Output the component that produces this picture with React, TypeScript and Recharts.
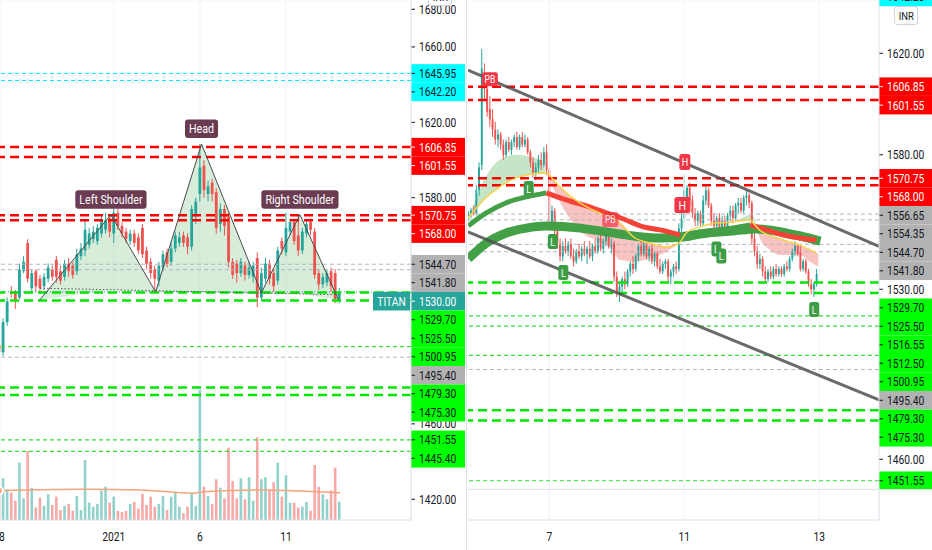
import React from "react";
import {
  ComposedChart,
  Bar,
  Line,
  Area,
  XAxis,
  YAxis,
  CartesianGrid,
  ReferenceLine,
  ReferenceDot,
} from "recharts";

const UP = "#26a69a";
const DOWN = "#ef5350";
const INK = "#131722";
const GRID = "#f0f3fa";
const BORDER = "#e0e3eb";
const FONT = "Roboto, 'Liberation Sans', Arial, sans-serif";
const SQUEEZE = 0.82;
const SYMBOL = "TITAN";

// ---------- left pane: hourly candles, Dec 28 .. Jan 12 ----------
// [open, high, low, close]
const leftOHLC: number[][] = [
  [1502, 1504, 1497, 1498], [1498, 1516, 1496, 1514], [1514, 1527, 1512, 1525], [1530, 1533, 1527, 1529],
  [1530, 1531, 1521, 1526], [1527, 1545, 1526, 1542], [1541, 1549, 1540, 1546], [1556, 1558, 1535, 1537],
  [1532, 1542, 1530, 1540], [1541, 1542, 1530, 1533], [1537, 1539, 1529, 1532], [1533, 1540, 1531, 1538],
  [1537, 1545, 1535, 1543], [1542, 1544, 1536, 1538], [1547, 1549, 1535, 1538], [1541, 1544, 1534, 1536],
  [1538, 1547, 1536, 1545], [1545, 1548, 1538, 1541], [1544, 1546, 1537, 1539], [1541, 1553, 1539, 1550],
  [1549, 1556, 1547, 1553], [1552, 1568, 1549, 1563], [1555, 1564, 1553, 1561], [1558, 1565, 1556, 1562],
  [1557, 1566, 1555, 1564], [1561, 1571, 1559, 1568], [1563, 1572, 1561, 1568], [1569, 1571, 1559, 1562],
  [1561, 1574, 1556, 1572], [1572, 1574, 1563, 1565], [1565, 1567, 1559, 1561], [1562, 1564, 1556, 1558],
  [1557, 1563, 1555, 1561], [1561, 1563, 1554, 1556], [1559, 1561, 1550, 1552], [1564, 1566, 1548, 1550],
  [1552, 1554, 1542, 1545], [1546, 1548, 1537, 1540], [1542, 1544, 1530, 1537], [1536, 1546, 1533, 1544],
  [1543, 1552, 1541, 1550], [1551, 1553, 1543, 1545], [1546, 1556, 1544, 1553], [1553, 1562, 1551, 1560],
  [1556, 1562, 1554, 1559], [1560, 1562, 1554, 1556], [1559, 1561, 1550, 1554], [1554, 1576, 1552, 1574],
  [1570, 1580, 1566, 1578], [1582, 1608.5, 1578, 1596], [1597, 1600, 1580, 1584], [1582, 1589, 1578, 1586],
  [1588, 1590, 1578, 1582], [1583, 1585, 1561, 1564], [1566, 1577, 1562, 1574], [1574, 1576, 1560, 1565],
  [1570, 1572, 1543, 1546], [1546, 1548, 1537, 1539], [1545, 1547, 1535, 1540], [1540, 1548, 1538, 1546],
  [1544, 1546, 1536, 1539], [1539, 1546, 1537, 1543], [1538, 1546, 1535, 1544], [1548, 1551, 1522, 1527],
  [1527, 1543, 1525, 1540], [1537, 1548, 1535, 1545], [1545, 1547, 1534, 1537], [1540, 1542, 1530, 1533],
  [1536, 1554, 1534, 1552], [1557, 1559, 1550, 1553], [1551, 1572, 1549, 1564], [1562, 1569, 1560, 1567],
  [1567, 1569, 1555, 1557], [1560, 1571, 1549, 1552], [1552, 1564, 1550, 1562], [1561, 1568, 1559, 1566],
  [1567, 1569, 1560, 1563], [1562, 1564, 1537, 1539], [1540, 1542, 1531, 1534], [1534, 1540, 1532, 1538],
  [1535, 1542, 1533, 1540], [1541, 1543, 1530, 1533], [1540, 1542, 1524, 1526], [1526, 1532, 1524, 1530],
];

const leftVolume = [
  300, 417, 307, 273, 193, 573, 217, 690, 323, 123,
  223, 140, 257, 150, 233, 100, 140, 160, 93, 240,
  100, 600, 173, 133, 160, 293, 333, 173, 233, 90,
  80, 90, 160, 180, 113, 260, 150, 233, 133, 160,
  240, 100, 233, 277, 133, 67, 133, 267, 140, 1300,
  333, 240, 160, 407, 323, 217, 723, 390, 217, 417,
  207, 427, 193, 827, 407, 427, 300, 377, 573, 233,
  447, 173, 173, 123, 133, 180, 93, 550, 333, 257,
  207, 297, 523, 183,
];

// volume moving average, read at a few bars
const volMA = [[0, 293], [20.6, 307], [34.4, 300], [47.4, 267], [49.8, 283], [65.3, 300], [73.4, 290], [83.2, 273]];

const leftDateTicks = [0, 28, 49, 70];
const leftDateLabels = ["28", "2021", "6", "11"];
const leftPriceTicks = [1420, 1440, 1460, 1480, 1500, 1520, 1540, 1560, 1580, 1600, 1620, 1640, 1660, 1680];
const leftShownTicks = [1680, 1660, 1620, 1580, 1460, 1420];

// head & shoulders drawing
const hsIdx = [10, 27.3, 38.2, 49.4, 64, 73.4, 82.8];
const hsPrice = [1525.9, 1571, 1530, 1608.5, 1529.5, 1571, 1525.9];
const hsBase = [1525.9, 1531, 1530, 1530, 1529.5, 1529, 1525.9];
const hsNames = ["", "Left Shoulder", "", "Head", "", "Right Shoulder", ""];
const neckline = [[10, 1532], [82.8, 1528.5]];

const leftLevels: [number, string][] = [
  [1645.95, "cyan"], [1642.2, "cyan"],
  [1606.85, "red"], [1601.55, "red"], [1570.75, "red"], [1568.0, "red"],
  [1544.7, "gray"], [1541.8, "gray"],
  [1530.0, "last"],
  [1529.7, "green"], [1525.5, "green"],
  [1500.95, "greenThin"], [1495.4, "gray"],
  [1479.3, "green"], [1475.3, "green"],
  [1451.55, "greenThin"], [1445.4, "greenThin"],
];

// ---------- right pane: 15 min candles, Jan 5 close .. Jan 12 ----------
const rightOHLC: number[][] = [
  [1556, 1558, 1554, 1557], [1557, 1559, 1555, 1558], [1558, 1560, 1556, 1557], [1557, 1568, 1556, 1566],
  [1566, 1577, 1564, 1575], [1576, 1621.7, 1574, 1614], [1612, 1616, 1602, 1606], [1606, 1608, 1595, 1597],
  [1598, 1603, 1591, 1594], [1594, 1598, 1587, 1590], [1590, 1593, 1584, 1586], [1586, 1590, 1583, 1588],
  [1588, 1589, 1582, 1584], [1584, 1586, 1578, 1580], [1580, 1586, 1579, 1585], [1585, 1587, 1581, 1582],
  [1582, 1586, 1580, 1585], [1585, 1588, 1583, 1587], [1587, 1589, 1582, 1583], [1583, 1588, 1582, 1587],
  [1587, 1589, 1583, 1584], [1584, 1588, 1583, 1586], [1586, 1587, 1580, 1581], [1581, 1582, 1575, 1577],
  [1577, 1579, 1571, 1573], [1573, 1577, 1570, 1575], [1575, 1580, 1573, 1578], [1578, 1581, 1574, 1576],
  [1576, 1583, 1575, 1581], [1581, 1584, 1572, 1574], [1574, 1575, 1550, 1553], [1553, 1560, 1551, 1558],
  [1558, 1559, 1548, 1550], [1550, 1552, 1543, 1545], [1545, 1547, 1538, 1540], [1540, 1546, 1538, 1544],
  [1544, 1547, 1541, 1542], [1542, 1546, 1540, 1545], [1545, 1547, 1539, 1540], [1540, 1543, 1536, 1538],
  [1538, 1543, 1537, 1542], [1542, 1545, 1539, 1540], [1540, 1544, 1538, 1543], [1543, 1546, 1540, 1541],
  [1541, 1544, 1537, 1543], [1543, 1546, 1539, 1540], [1540, 1545, 1538, 1544], [1544, 1547, 1541, 1542],
  [1542, 1548, 1541, 1547], [1547, 1549, 1542, 1543], [1543, 1547, 1541, 1546], [1546, 1550, 1544, 1548],
  [1548, 1551, 1543, 1544], [1544, 1547, 1541, 1545], [1545, 1546, 1530, 1532], [1532, 1534, 1524, 1526],
  [1526, 1530, 1522, 1528], [1528, 1532, 1525, 1531], [1531, 1534, 1527, 1529], [1529, 1535, 1528, 1534],
  [1534, 1538, 1532, 1537], [1537, 1540, 1533, 1535], [1535, 1541, 1534, 1540], [1540, 1545, 1538, 1544],
  [1544, 1547, 1540, 1541], [1541, 1546, 1540, 1545], [1545, 1546, 1539, 1540], [1540, 1544, 1538, 1543],
  [1543, 1545, 1537, 1538], [1538, 1542, 1536, 1541], [1541, 1542, 1535, 1536], [1536, 1539, 1533, 1534],
  [1534, 1538, 1533, 1537], [1537, 1539, 1535, 1538], [1538, 1539, 1530, 1532], [1532, 1535, 1529, 1534],
  [1534, 1537, 1532, 1536], [1536, 1538, 1533, 1535], [1535, 1553, 1534, 1551], [1551, 1557, 1549, 1555],
  [1555, 1572, 1553, 1566], [1562, 1568, 1560, 1567], [1567, 1569, 1560, 1562], [1562, 1564, 1555, 1557],
  [1557, 1559, 1552, 1554], [1554, 1558, 1552, 1557], [1557, 1558, 1552, 1553], [1553, 1564, 1552, 1562],
  [1562, 1568, 1560, 1566], [1566, 1567, 1559, 1560], [1560, 1561, 1552, 1554], [1554, 1557, 1550, 1552],
  [1552, 1556, 1550, 1555], [1555, 1557, 1550, 1551], [1551, 1556, 1550, 1554], [1554, 1556, 1551, 1552],
  [1552, 1557, 1551, 1556], [1556, 1560, 1554, 1558], [1558, 1560, 1553, 1555], [1555, 1561, 1554, 1560],
  [1560, 1563, 1557, 1561], [1561, 1563, 1557, 1558], [1558, 1564, 1557, 1563], [1563, 1566, 1560, 1564],
  [1564, 1565, 1559, 1561], [1561, 1562, 1545, 1547], [1547, 1549, 1540, 1542], [1542, 1544, 1535, 1537],
  [1537, 1541, 1535, 1539], [1539, 1540, 1532, 1534], [1534, 1536, 1530, 1531], [1531, 1535, 1530, 1534],
  [1534, 1536, 1531, 1532], [1532, 1536, 1531, 1535], [1535, 1537, 1532, 1533], [1533, 1536, 1532, 1535],
  [1535, 1536, 1532, 1533], [1533, 1537, 1532, 1536], [1536, 1538, 1534, 1535], [1535, 1540, 1534, 1539],
  [1539, 1543, 1538, 1542], [1542, 1546, 1540, 1544], [1544, 1545, 1540, 1541], [1542, 1544, 1534, 1535],
  [1535, 1539, 1534, 1538], [1538, 1539, 1533, 1534], [1534, 1535, 1528, 1529], [1529, 1531, 1525, 1527],
  [1527, 1530, 1524, 1529], [1529, 1535, 1528, 1533],
];

const rightDateTicks = [30, 80, 130];
const rightDateLabels = ["7", "11", "13"];
const rightPriceTicks = [1460, 1580, 1620];

const yellowMA = [
  [0, 1555.1], [5.6, 1562.2], [11.5, 1567.3], [17.8, 1570.9], [24, 1572.4], [29, 1572.8], [31.6, 1570.1],
  [36.4, 1564.9], [42.7, 1560.2], [48.5, 1557.1], [54.8, 1554.3], [58.5, 1550.4], [61.2, 1547.6],
  [67.4, 1545.2], [73.3, 1543.7], [78, 1545.2], [80.7, 1549.2], [85.6, 1551.5], [91.9, 1553.1],
  [98, 1553.5], [104, 1554.3], [107.8, 1550.4], [116.7, 1546.4], [122.6, 1544.5], [128.9, 1541.3],
];
const trendUp1 = [[0, 1552.0], [6.7, 1557.1], [14.1, 1561.1], [21.5, 1563.4], [28.9, 1565.0]];
const trendDown1 = [[28.9, 1565.0], [36.3, 1562.2], [45.9, 1559.1], [51.1, 1557.1], [56.3, 1555.2], [64.8, 1551.6], [71.1, 1550.4], [78.5, 1548.4]];
const trendUp2 = [[78.5, 1548.4], [85.9, 1549.6], [91.9, 1550.4], [98.1, 1551.2], [104.4, 1552.4]];
const trendDown2 = [[104.4, 1552.4], [110.4, 1550.4], [116.7, 1548.4], [122.6, 1547.2], [128.9, 1546.4]];
const slowBand = [
  [0, 1539], [6.7, 1545.2], [14.1, 1549.2], [21.5, 1551.1], [28.9, 1551.9], [41.5, 1551.1], [51.1, 1549.6],
  [61.1, 1548.0], [71.1, 1547.2], [79.6, 1547.6], [85.9, 1548.8], [98.1, 1550.0], [106.7, 1550.8],
  [113.7, 1550.0], [123, 1548.0], [130.4, 1546.0],
];
// [bar, low edge, high edge]
const cloudUp1 = [[0, 1555.1, 1555.5], [1.6, 1556.7, 1559.5], [6.6, 1563, 1571.4], [11.6, 1567.3, 1578], [17.7, 1570.9, 1580], [22.7, 1572.1, 1579.3], [26.4, 1572.6, 1578], [28.8, 1572.7, 1572.8]];
const cloudDown1 = [[29, 1572.7, 1572.8], [36.3, 1557, 1564.9], [42.5, 1549, 1560.2], [48.6, 1546, 1557.1], [52.5, 1543.5, 1555.3], [56.2, 1538.5, 1553.5], [61.2, 1538, 1547.6], [67.4, 1539, 1545.2], [72, 1541, 1544], [77, 1544.4, 1544.6]];
const cloudUp2 = [[99, 1553.4, 1553.6], [103, 1554, 1556], [105, 1554.1, 1556.5], [107, 1551.2, 1551.4]];
const cloudDown2 = [[106.5, 1552, 1552.2], [108, 1547.1, 1550.4], [111.7, 1542.5, 1548.6], [115.4, 1540.5, 1546.9], [119.1, 1540.5, 1545.7], [122.8, 1540.5, 1544.4], [126.5, 1537.9, 1542.5], [129.6, 1535.9, 1541]];

const channelTop = [[-0.1, 1613.4], [152.1, 1543.9]];
const channelBottom = [[-0.1, 1549.6], [152.1, 1483.4]];

const rightMarks: [string, number, number][] = [
  ["PB", 8.0, 1609.8], ["PBsoft", 52.6, 1554.5], ["H", 80.2, 1577.2], ["Hbig", 79.3, 1560.2],
  ["L", 22.4, 1566.7], ["L", 31.3, 1545.8], ["L", 35.2, 1533.6], ["L", 91.9, 1542.9], ["L", 93.7, 1540.1], ["L", 128.1, 1519],
];

const rightLevels: [number, string][] = [
  [1642.2, "cyan"],
  [1606.85, "red"], [1601.55, "red"], [1570.75, "red"], [1568.0, "red"],
  [1556.65, "gray"], [1554.35, "gray"], [1544.7, "gray"], [1541.8, "gray"],
  [1530.0, "plain"],
  [1529.7, "green"], [1525.5, "green"],
  [1516.55, "greenThin"], [1512.5, "greenThin"], [1500.95, "greenThin"],
  [1495.4, "gray"],
  [1479.3, "green"], [1475.3, "green"],
  [1451.55, "greenThin"],
];

// ---------- geometry ----------
const LEFT_X: [number, number] = [0.244, 100.49];
const LEFT_Y: [number, number] = [1409.0, 1684.9];
const LEFT_PLOT_H = 520;
const RIGHT_X: [number, number] = [-0.1, 152.1];
const RIGHT_Y: [number, number] = [1448.3, 1641.0];
const RIGHT_PLOT_H = 489;
const TAG_H = 18.5;

const TAG: Record<string, { bg: string | null; fg: string }> = {
  cyan: { bg: "#00ffff", fg: INK },
  red: { bg: "#ff0000", fg: "#ffffff" },
  gray: { bg: "#b2b2b2", fg: INK },
  last: { bg: "#26a69a", fg: "#ffffff" },
  green: { bg: "#00ff00", fg: INK },
  greenThin: { bg: "#00ff00", fg: INK },
  plain: { bg: null, fg: INK },
  tick: { bg: null, fg: INK },
};
const LINE: Record<string, { stroke: string; w: number; dash: string }> = {
  cyan: { stroke: "#00e5ff", w: 1, dash: "4 3" },
  red: { stroke: "#ff0000", w: 2.5, dash: "9 5" },
  gray: { stroke: "#b2b5be", w: 1, dash: "4 3" },
  last: { stroke: "#26a69a", w: 1, dash: "1 2" },
  green: { stroke: "#00e600", w: 2.5, dash: "9 5" },
  greenThin: { stroke: "#33dd33", w: 1.2, dash: "4 3" },
};
const MARK: Record<string, { text: string; fill: string; w: number; h: number; fs: number; op: number }> = {
  PB: { text: "PB", fill: "#f23645", w: 16, h: 14, fs: 10.5, op: 1 },
  PBsoft: { text: "PB", fill: "#f23645", w: 16, h: 15, fs: 10.5, op: 0.7 },
  H: { text: "H", fill: "#f23645", w: 11, h: 16, fs: 11, op: 1 },
  Hbig: { text: "H", fill: "#f23645", w: 16, h: 16, fs: 13, op: 1 },
  L: { text: "L", fill: "#3d9d47", w: 10, h: 15, fs: 11, op: 1 },
};

type Tag = { v: number; kind: string; at: number; text?: string };

// price-scale labels are stacked so they never overlap
function stackTags(levels: [number, string][], domain: [number, number], plotH: number): Tag[] {
  const unit = (domain[1] - domain[0]) / plotH;
  let prev = Infinity;
  return [...levels]
    .sort((a, b) => b[0] - a[0])
    .map(([v, kind]) => {
      const at = Math.min(v, prev - TAG_H * unit);
      prev = at;
      return { v, kind, at };
    });
}

let ctx: CanvasRenderingContext2D | null = null;
function textWidth(s: string, size: number) {
  if (!ctx && typeof document !== "undefined") ctx = document.createElement("canvas").getContext("2d");
  if (!ctx) return s.length * size * 0.55;
  ctx.font = `${size}px Roboto`;
  return ctx.measureText(s).width;
}

const pts = (arr: number[][]) => arr.map(([i, v]) => ({ i, v }));
const ranges = (arr: number[][]) => arr.map(([i, lo, hi]) => ({ i, r: [lo, hi] }));

function AxisText({ x, y, anchor = "start", fill = INK, size = 12.5, children }: any) {
  return (
    <text
      transform={`translate(${x} ${y}) scale(${SQUEEZE} 1)`}
      textAnchor={anchor}
      dy="0.36em"
      fontSize={size}
      fontFamily={FONT}
      fill={fill}
    >
      {children}
    </text>
  );
}

const makeCandle = (bodyW: number) => (props: any) => {
  const { x, y, width, height, payload } = props;
  if (!payload || payload.h == null) return <g />;
  const top = Math.min(y, y + height);
  const span = Math.abs(height);
  const k = span / (payload.h - payload.l || 1);
  const cx = x + width / 2;
  const yo = top + (payload.h - payload.o) * k;
  const yc = top + (payload.h - payload.c) * k;
  const col = payload.c >= payload.o ? UP : DOWN;
  return (
    <g>
      <line x1={cx} x2={cx} y1={top} y2={top + span} stroke={col} strokeWidth={1} />
      <rect x={cx - bodyW / 2} y={Math.min(yo, yc)} width={bodyW} height={Math.max(1, Math.abs(yc - yo))} fill={col} />
    </g>
  );
};

const makeVolumeBar = (w: number) => (props: any) => {
  const { x, y, width, height, payload } = props;
  if (!payload) return <g />;
  const cx = x + width / 2;
  const col = payload.c >= payload.o ? UP : DOWN;
  return <rect x={cx - w / 2} y={Math.min(y, y + height)} width={w} height={Math.abs(height)} fill={col} fillOpacity={0.5} />;
};

const dateTick = (ticks: number[], labels: string[]) => (props: any) => {
  const k = ticks.indexOf(props.payload.value);
  return (
    <AxisText x={props.x} y={props.y + 16} anchor="middle">
      {k >= 0 ? labels[k] : ""}
    </AxisText>
  );
};

// one label in the price scale: coloured box (or plain tick text) next to the plot
const tagLabel = (t: Tag, axisW: number) => (props: any) => {
  const vb = props.viewBox;
  if (!vb) return null;
  const x0 = vb.x + vb.width;
  const y = vb.y;
  const st = TAG[t.kind];
  return (
    <g>
      {st.bg && <rect x={x0} y={y - TAG_H / 2} width={axisW} height={TAG_H} fill={st.bg} />}
      {t.kind === "last" && (
        <g>
          <rect x={x0 - 38} y={y - TAG_H / 2} width={37} height={TAG_H} fill={st.bg!} />
          <AxisText x={x0 - 19.5} y={y} anchor="middle" fill="#fff">{SYMBOL}</AxisText>
        </g>
      )}
      <line x1={x0} x2={x0 + 4} y1={y} y2={y} stroke={st.fg} />
      <AxisText x={x0 + 8} y={y} fill={st.fg}>{t.text ?? t.v.toFixed(2)}</AxisText>
    </g>
  );
};

function PatternLabel({ cx, cy, text }: any) {
  const w = textWidth(text, 13) * SQUEEZE + 8;
  const h = 18.5;
  const bottom = cy - 6;
  return (
    <g>
      <rect x={cx - w / 2} y={bottom - h} width={w} height={h} rx={3} fill="#6b3b52" />
      <AxisText x={cx} y={bottom - h / 2} anchor="middle" fill="#fff" size={13}>{text}</AxisText>
    </g>
  );
}

function MarkBox({ cx, cy, kind }: any) {
  const m = MARK[kind];
  return (
    <g opacity={m.op}>
      <rect x={cx - m.w / 2} y={cy - m.h / 2} width={m.w} height={m.h} rx={2.5} fill={m.fill} />
      <AxisText x={cx} y={cy} anchor="middle" fill="#fff" size={m.fs}>{m.text}</AxisText>
    </g>
  );
}

function LeftPane() {
  const data = leftOHLC.map(([o, h, l, c], i) => ({ i, o, h, l, c, vol: leftVolume[i] }));
  const hsData = hsIdx.map((i, k) => ({ i, v: hsPrice[k], r: [hsBase[k], hsPrice[k]] }));
  const tags = stackTags(leftLevels, LEFT_Y, LEFT_PLOT_H);
  return (
    <ComposedChart width={466} height={550} data={data} margin={{ top: 0, right: 0, bottom: 0, left: 0 }}>
      <CartesianGrid xAxisId="x" yAxisId="p" stroke={GRID} />
      <XAxis
        xAxisId="x" dataKey="i" type="number" domain={LEFT_X} allowDataOverflow
        ticks={leftDateTicks} interval={0} height={30} tickSize={0} tickMargin={0}
        axisLine={{ stroke: BORDER }} tickLine={false} tick={dateTick(leftDateTicks, leftDateLabels)}
      />
      <XAxis xAxisId="vx" dataKey="i" type="number" domain={LEFT_X} allowDataOverflow hide height={0} />
      <YAxis
        yAxisId="p" orientation="right" type="number" domain={LEFT_Y} allowDataOverflow
        ticks={leftPriceTicks} interval={0} width={55} axisLine={{ stroke: BORDER }} tickLine={false} tick={false}
      />
      <YAxis yAxisId="v" orientation="left" type="number" domain={[0, 5200]} allowDataOverflow hide width={0} />

      <Bar xAxisId="vx" yAxisId="v" dataKey="vol" barSize={3} shape={makeVolumeBar(2.6)} isAnimationActive={false} />
      <Line
        xAxisId="vx" yAxisId="v" data={pts(volMA)} dataKey="v" type="monotone"
        stroke="#f5a57c" strokeWidth={1.5} dot={false} isAnimationActive={false}
      />
      <Area
        xAxisId="x" yAxisId="p" data={hsData} dataKey="r" type="linear"
        fill="#4caf50" fillOpacity={0.22} stroke="none" dot={false} activeDot={false} isAnimationActive={false}
      />
      <Bar xAxisId="x" yAxisId="p" dataKey={(d: any) => [d.l, d.h]} barSize={3} shape={makeCandle(2.8)} isAnimationActive={false} />

      {leftLevels.filter(([, k]) => LINE[k]).map(([v, k]) => (
        <ReferenceLine
          key={"lv" + v} xAxisId="x" yAxisId="p" y={v} stroke={LINE[k].stroke}
          strokeWidth={LINE[k].w} strokeDasharray={LINE[k].dash} ifOverflow="hidden"
        />
      ))}

      <Line
        xAxisId="x" yAxisId="p" data={pts(neckline)} dataKey="v" type="linear"
        stroke="#555" strokeWidth={1} strokeDasharray="1.5 2" dot={false} activeDot={false} isAnimationActive={false}
      />
      <Line
        xAxisId="x" yAxisId="p" data={hsData} dataKey="v" type="linear"
        stroke="#4a4a4a" strokeWidth={1} dot={false} activeDot={false} isAnimationActive={false}
      />
      {hsNames.map((n, k) =>
        n ? (
          <ReferenceDot
            key={n} xAxisId="x" yAxisId="p" x={hsIdx[k]} y={hsPrice[k]} r={0} ifOverflow="visible"
            shape={(p: any) => <PatternLabel cx={p.cx} cy={p.cy} text={n} />}
          />
        ) : null
      )}

      {leftShownTicks.map((v) => (
        <ReferenceLine
          key={"tk" + v} xAxisId="x" yAxisId="p" y={v} stroke="none" ifOverflow="visible"
          label={{ content: tagLabel({ v, kind: "tick", at: v }, 54) }}
        />
      ))}
      {tags.map((t) => (
        <ReferenceLine
          key={"tg" + t.v} xAxisId="x" yAxisId="p" y={t.at} stroke="none" ifOverflow="visible"
          label={{ content: tagLabel(t, 54) }}
        />
      ))}
    </ComposedChart>
  );
}

function RightPane() {
  const data = rightOHLC.map(([o, h, l, c], i) => ({ i, o, h, l, c }));
  const tags = stackTags(rightLevels, RIGHT_Y, RIGHT_PLOT_H);
  const seg = (a: number[][]) => [{ x: a[0][0], y: a[0][1] }, { x: a[1][0], y: a[1][1] }];
  return (
    <ComposedChart width={464} height={489} data={data} margin={{ top: 0, right: 0, bottom: 0, left: 0 }}>
      <CartesianGrid stroke={GRID} vertical={false} />
      <XAxis dataKey="i" type="number" domain={RIGHT_X} allowDataOverflow hide height={0} />
      <YAxis
        orientation="right" type="number" domain={RIGHT_Y} allowDataOverflow
        ticks={rightPriceTicks} interval={0} width={53} axisLine={{ stroke: BORDER }} tickLine={false} tick={false}
      />
      {rightDateTicks.map((t) => (
        <ReferenceLine key={"g" + t} x={t} stroke={GRID} />
      ))}

      <Area data={ranges(cloudUp1)} dataKey="r" type="monotone" fill="#4caf50" fillOpacity={0.32} stroke="none" isAnimationActive={false} />
      <Area data={ranges(cloudDown1)} dataKey="r" type="monotone" fill="#ef5350" fillOpacity={0.35} stroke="none" isAnimationActive={false} />
      <Area data={ranges(cloudUp2)} dataKey="r" type="monotone" fill="#4caf50" fillOpacity={0.32} stroke="none" isAnimationActive={false} />
      <Area data={ranges(cloudDown2)} dataKey="r" type="monotone" fill="#ef5350" fillOpacity={0.35} stroke="none" isAnimationActive={false} />

      <Bar dataKey={(d: any) => [d.l, d.h]} barSize={2} shape={makeCandle(1.9)} isAnimationActive={false} />

      {rightLevels.filter(([, k]) => LINE[k]).map(([v, k]) => (
        <ReferenceLine
          key={"rv" + v} y={v} stroke={LINE[k].stroke} strokeWidth={LINE[k].w}
          strokeDasharray={LINE[k].dash} ifOverflow="hidden"
        />
      ))}

      <Line data={pts(slowBand)} dataKey="v" type="monotone" stroke="#43a047" strokeWidth={9} dot={false} isAnimationActive={false} />
      <Line data={pts(trendUp1)} dataKey="v" type="monotone" stroke="#43a047" strokeWidth={5} dot={false} isAnimationActive={false} />
      <Line data={pts(trendDown1)} dataKey="v" type="monotone" stroke="#f44336" strokeWidth={5} dot={false} isAnimationActive={false} />
      <Line data={pts(trendUp2)} dataKey="v" type="monotone" stroke="#43a047" strokeWidth={5} dot={false} isAnimationActive={false} />
      <Line data={pts(trendDown2)} dataKey="v" type="monotone" stroke="#f44336" strokeWidth={5} dot={false} isAnimationActive={false} />
      <Line data={pts(yellowMA)} dataKey="v" type="monotone" stroke="#f7d34a" strokeWidth={1.5} dot={false} isAnimationActive={false} />

      <ReferenceLine segment={seg(channelTop)} stroke="#505050" strokeOpacity={0.85} strokeWidth={3} ifOverflow="hidden" />
      <ReferenceLine segment={seg(channelBottom)} stroke="#505050" strokeOpacity={0.85} strokeWidth={3} ifOverflow="hidden" />

      {rightMarks.map(([kind, i, v], k) => (
        <ReferenceDot
          key={"m" + k} x={i} y={v} r={0} ifOverflow="visible"
          shape={(p: any) => <MarkBox cx={p.cx} cy={p.cy} kind={kind} />}
        />
      ))}

      {rightPriceTicks.map((v) => (
        <ReferenceLine
          key={"rk" + v} y={v} stroke="none" ifOverflow="visible"
          label={{ content: tagLabel({ v, kind: "tick", at: v }, 53) }}
        />
      ))}
      {tags.map((t) => (
        <ReferenceLine
          key={"rt" + t.v} y={t.at} stroke="none" ifOverflow="visible"
          label={{ content: tagLabel(t, 53) }}
        />
      ))}
    </ComposedChart>
  );
}

function RightVolumePane() {
  return (
    <ComposedChart width={464} height={61} data={[{ i: 0 }, { i: 152 }]} margin={{ top: 0, right: 0, bottom: 0, left: 0 }}>
      <CartesianGrid stroke={GRID} />
      <XAxis
        dataKey="i" type="number" domain={RIGHT_X} allowDataOverflow ticks={rightDateTicks} interval={0}
        height={30} tickSize={0} tickMargin={0} axisLine={{ stroke: BORDER }} tickLine={false}
        tick={dateTick(rightDateTicks, rightDateLabels)}
      />
      <YAxis
        orientation="right" type="number" domain={[-1, 2]} ticks={[0]} interval={0} width={53}
        axisLine={{ stroke: BORDER }} tickLine={false} tick={false}
      />
      <ReferenceLine
        y={0} stroke="none" ifOverflow="visible"
        label={{ content: tagLabel({ v: 0, kind: "tick", at: 0, text: "0" }, 53) }}
      />
    </ComposedChart>
  );
}

const inrBox: React.CSSProperties = {
  position: "absolute",
  width: 24,
  height: 19,
  boxSizing: "border-box",
  border: "1px solid #d1d4dc",
  borderRadius: 3,
  background: "#fff",
  color: INK,
  fontSize: 11.5,
  fontFamily: FONT,
  display: "flex",
  alignItems: "center",
  justifyContent: "center",
};

export default function App() {
  return (
    <div style={{ position: "absolute", left: 0, top: 0, width: 932, height: 550, background: "#fff", overflow: "hidden" }}>
      <div style={{ position: "absolute", left: 0, top: 0 }}>
        <LeftPane />
      </div>
      <div style={{ ...inrBox, left: 428, top: -13 }}>
        <span style={{ transform: `scaleX(${SQUEEZE})` }}>INR</span>
      </div>
      <div style={{ position: "absolute", left: 466, top: 0, width: 1, height: 550, background: BORDER }} />
      <div style={{ position: "absolute", left: 468, top: 0 }}>
        <RightPane />
      </div>
      <div style={{ position: "absolute", left: 468, top: 489 }}>
        <RightVolumePane />
      </div>
      <div style={{ position: "absolute", left: 468, top: 489, width: 464, height: 1, background: BORDER }} />
      <div style={{ ...inrBox, left: 894, top: 6 }}>
        <span style={{ transform: `scaleX(${SQUEEZE})` }}>INR</span>
      </div>
    </div>
  );
}
